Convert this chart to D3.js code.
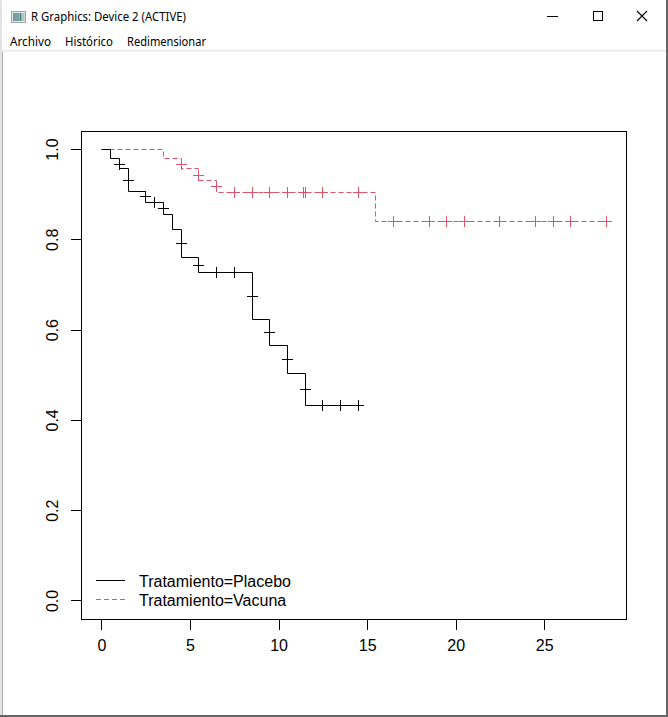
<!DOCTYPE html>
<html>
<head>
<meta charset="utf-8">
<script src="https://cdn.jsdelivr.net/npm/d3@7"></script>
<style>
  html, body { margin: 0; padding: 0; background: #fff; }
  svg { display: block; }
</style>
</head>
<body>
<svg id="win" width="668" height="717"></svg>
<script>
// ---- Data ----
const xTicks = [0, 5, 10, 15, 20, 25];
const yTicks = [0, 0.2, 0.4, 0.6, 0.8, 1.0];
const yTickLabels = ["0.0", "0.2", "0.4", "0.6", "0.8", "1.0"];
const seriesNames = ["Tratamiento=Placebo", "Tratamiento=Vacuna"];

const placeboTimes = [0, 0.5, 1.0, 1.5, 2.5, 3.5, 4.0, 4.5, 5.5, 8.5, 9.5, 10.5, 11.5, 14.5];
const placeboSurv  = [1, 0.978, 0.956, 0.905, 0.882, 0.854, 0.822, 0.760, 0.727, 0.623, 0.565, 0.503, 0.432, 0.432];
const placeboCensorTimes = [1.0, 1.5, 2.5, 3.0, 3.5, 4.5, 5.5, 6.5, 7.5, 8.5, 9.5, 10.5, 11.5, 12.5, 13.5, 14.5];
const placeboCensorSurv  = [0.966, 0.931, 0.894, 0.882, 0.869, 0.791, 0.743, 0.727, 0.727, 0.674, 0.593, 0.534, 0.468, 0.432, 0.432, 0.432];

const vacunaTimes = [0, 3.5, 4.5, 5.5, 6.5, 15.5, 28.5];
const vacunaSurv  = [1, 0.978, 0.956, 0.931, 0.904, 0.839, 0.839];
const vacunaCensorTimes = [4.5, 5.5, 6.5, 7.5, 8.5, 9.5, 10.5, 11.4, 11.5, 12.5, 14.5, 16.5, 18.5, 19.5, 20.5, 22.5, 24.5, 25.5, 26.5, 28.5];
const vacunaCensorSurv  = [0.966, 0.942, 0.916, 0.904, 0.904, 0.904, 0.904, 0.904, 0.904, 0.904, 0.904, 0.839, 0.839, 0.839, 0.839, 0.839, 0.839, 0.839, 0.839, 0.839];

const colors = ["#000000", "#DF536B"];
const dashes = [null, "5,3"];

// ---- Window chrome ----
const svg = d3.select("#win");
svg.append("rect").attr("x", 0).attr("y", 0).attr("width", 668).attr("height", 717).attr("fill", "#fff");

// icon
const icon = svg.append("g");
icon.append("rect").attr("x", 11.5).attr("y", 11.5).attr("width", 14).attr("height", 11).attr("fill", "#dfe6e6").attr("stroke", "#9aa7a7");
icon.append("rect").attr("x", 13).attr("y", 13).attr("width", 6).attr("height", 8).attr("fill", "#7e9aa4");
icon.append("rect").attr("x", 19.5).attr("y", 13).attr("width", 2).attr("height", 8).attr("fill", "#3c8a72");
icon.append("rect").attr("x", 22).attr("y", 13).attr("width", 2.5).attr("height", 8).attr("fill", "#b9c3c3");

const chromeFont = "'Segoe UI', 'Noto Sans', 'Open Sans', sans-serif";
svg.append("text").attr("x", 31).attr("y", 21).attr("font-family", chromeFont).attr("font-size", 12)
  .attr("fill", "#000").attr("textLength", 155).attr("lengthAdjust", "spacingAndGlyphs")
  .text("R Graphics: Device 2 (ACTIVE)");

// window controls
svg.append("line").attr("x1", 547).attr("x2", 558).attr("y1", 16.5).attr("y2", 16.5).attr("stroke", "#000").attr("stroke-width", 1);
svg.append("rect").attr("x", 593.5).attr("y", 11.5).attr("width", 9).attr("height", 9).attr("fill", "none").attr("stroke", "#000").attr("stroke-width", 1);
svg.append("path").attr("d", "M637,11 L647,21 M647,11 L637,21").attr("stroke", "#000").attr("stroke-width", 1.1).attr("fill", "none");

// menu
const menu = [["Archivo", 10, 41], ["Histórico", 65, 48], ["Redimensionar", 127, 79]];
menu.forEach(m => {
  svg.append("text").attr("x", m[1]).attr("y", 46).attr("font-family", chromeFont).attr("font-size", 12)
    .attr("fill", "#000").attr("textLength", m[2]).attr("lengthAdjust", "spacingAndGlyphs").text(m[0]);
});
svg.append("rect").attr("x", 0).attr("y", 49.5).attr("width", 668).attr("height", 2.5).attr("fill", "#f0f0f0");

// borders
svg.append("rect").attr("x", 0).attr("y", 0).attr("width", 2).attr("height", 717).attr("fill", "#e3e3e3");
svg.append("rect").attr("x", 2).attr("y", 52).attr("width", 1).attr("height", 665).attr("fill", "#b0b0b0");
svg.append("rect").attr("x", 0).attr("y", 715).attr("width", 668).attr("height", 2).attr("fill", "#666");
svg.append("rect").attr("x", 666).attr("y", 0).attr("width", 2).attr("height", 717).attr("fill", "#666");

// ---- Plot ----
const box = { left: 81.3, right: 626.4, top: 131, bottom: 618.5 };
const xMax = 28.5;
const x = d3.scaleLinear().domain([-0.04 * xMax, xMax * 1.04]).range([box.left, box.right]);
const y = d3.scaleLinear().domain([-0.04, 1.04]).range([box.bottom, box.top]);
// snap scaled positions to pixel centres so 1px lines render crisp, as in the R device
const px = v => Math.floor(v) + 0.5;

const plot = svg.append("g");
const axisFont = "'Liberation Sans', Arial, sans-serif";

// box
plot.append("rect").attr("x", Math.round(box.left) + 0.5).attr("y", Math.round(box.top) + 0.5)
  .attr("width", Math.round(box.right) - Math.round(box.left)).attr("height", Math.round(box.bottom) - Math.round(box.top))
  .attr("fill", "none").attr("stroke", "#000").attr("stroke-width", 1);

// x axis
const xAxis = d3.axisBottom(x).tickValues(xTicks).tickSize(10).tickPadding(10).tickFormat(d3.format("d"));
const gx = plot.append("g").attr("transform", `translate(0,${Math.round(box.bottom) + 1})`).call(xAxis);
gx.select(".domain").remove();
gx.selectAll(".tick line").attr("stroke", "#000").attr("shape-rendering", "crispEdges");
gx.selectAll(".tick text").attr("font-family", axisFont).attr("font-size", 16).attr("fill", "#000")
  .attr("dy", null).attr("y", 31);

// y axis
const yAxis = d3.axisLeft(y).tickValues(yTicks).tickSize(10).tickFormat((d, i) => yTickLabels[i]);
const gy = plot.append("g").attr("transform", `translate(${Math.round(box.left)},0)`).call(yAxis);
gy.select(".domain").remove();
gy.selectAll(".tick line").attr("stroke", "#000").attr("shape-rendering", "crispEdges");
gy.selectAll(".tick text").attr("font-family", axisFont).attr("font-size", 16).attr("fill", "#000")
  .attr("x", null).attr("dy", null).attr("text-anchor", "middle")
  .attr("transform", "translate(-23,0) rotate(-90)");

// curves
const stepLine = d3.line().x(d => px(x(d[0]))).y(d => px(y(d[1]))).curve(d3.curveStepAfter);
const curves = [
  { times: placeboTimes, surv: placeboSurv, ct: placeboCensorTimes, cs: placeboCensorSurv },
  { times: vacunaTimes, surv: vacunaSurv, ct: vacunaCensorTimes, cs: vacunaCensorSurv }
];
const crossHalf = 5;
// draw vacuna first then placebo on top
[1, 0].forEach(k => {
  const c = curves[k];
  const pts = c.times.map((t, i) => [t, c.surv[i]]);
  const p = plot.append("path").attr("d", stepLine(pts)).attr("fill", "none")
    .attr("stroke", colors[k]).attr("stroke-width", 1);
  if (dashes[k]) p.attr("stroke-dasharray", dashes[k]);
  const marks = c.ct.map((t, i) => [t, c.cs[i]]);
  plot.append("g").selectAll("path").data(marks).join("path")
    .attr("d", d => {
      const cx = px(x(d[0])), cy = px(y(d[1]));
      return `M${cx - crossHalf - 0.5},${cy} L${cx + crossHalf + 0.5},${cy} M${cx},${cy - crossHalf - 0.5} L${cx},${cy + crossHalf + 0.5}`;
    })
    .attr("stroke", colors[k]).attr("stroke-width", 1).attr("fill", "none");
});

// legend
const legendY = [580.5, 599.5];
seriesNames.forEach((name, i) => {
  const l = plot.append("line").attr("x1", 96).attr("x2", 125).attr("y1", legendY[i]).attr("y2", legendY[i])
    .attr("stroke", colors[i]).attr("stroke-width", 1);
  if (dashes[i]) l.attr("stroke-dasharray", dashes[i]);
  plot.append("text").attr("x", 139).attr("y", legendY[i] + 6).attr("font-family", axisFont)
    .attr("font-size", 16).attr("fill", "#000").text(name);
});
</script>
</body>
</html>
